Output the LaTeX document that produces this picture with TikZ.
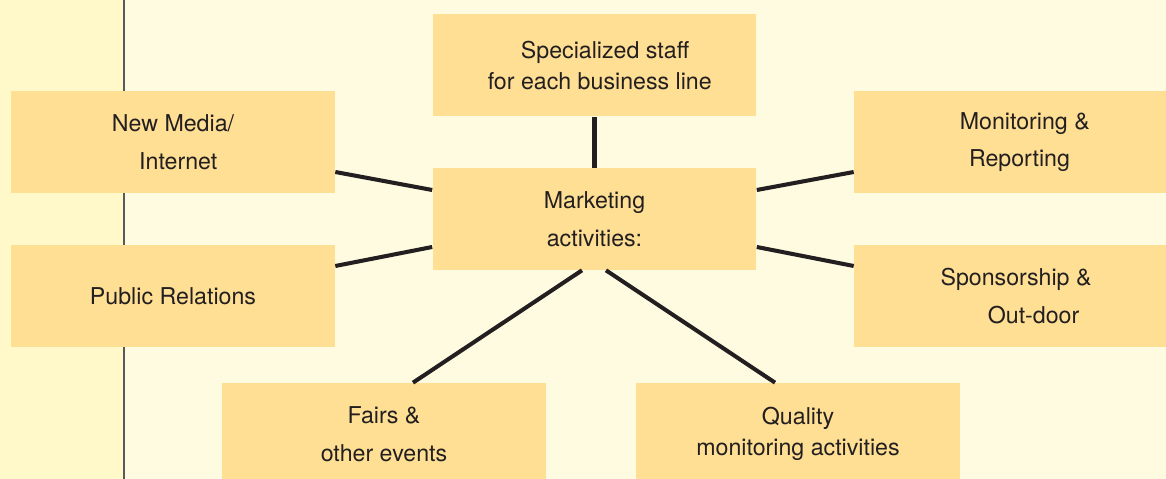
\documentclass[tikz,border=0pt]{standalone}
\usepackage{fontspec}
\setmainfont{TeX Gyre Heros}
\usetikzlibrary{calc}
\usetikzlibrary{positioning}
\definecolor{bandleft}{RGB}{255,248,200}
\definecolor{bandright}{RGB}{255,251,224}
\definecolor{boxfill}{RGB}{254,223,148}
\definecolor{spoke}{RGB}{35,31,32}
\begin{document}
\begin{tikzpicture}[x=0.02cm,y=0.02cm,
  every node/.style={fill=boxfill,minimum width=6.48cm,minimum height=2.04cm,inner sep=0pt,align=center,text=spoke,font=\fontsize{13.2}{21.5}\selectfont},
  tight/.style={font=\fontsize{13.2}{17.8}\selectfont},
  spokeline/.style={draw=spoke,line width=2.3pt}]
  \useasboundingbox (0,0) rectangle (1166,479);
  \clip (0,0) rectangle (1166,479);
  \fill[bandright] (0,0) rectangle (1166,479);
  \fill[bandleft] (0,0) rectangle (124,479);
  \draw[line width=1.1pt,black!65] (124,0) -- (124,479);

  \node (mkt) at (594.5,260){Marketing\\activities:};
  \node[tight,text depth=-3pt] (staff) at (594.5,413.5){\hspace*{12pt}Specialized staff\\\hspace*{6pt}for each business line};
  \node (media) at (173,337){New Media/\\\hspace*{6pt}Internet};
  \node (pr) at (173,183){Public Relations};
  \node (monitor) at (1016,337){\hspace*{10pt}Monitoring \&\\\hspace*{4pt}Reporting};
  \node (sponsor) at (1016,183){Sponsorship \&\\\hspace*{20pt}Out-door};
  \node (fairs) at (384,45){Fairs \&\\other events};
  \node[tight] (quality) at (798,45){Quality\\monitoring activities};

  \draw[spokeline](mkt.north)--(staff.south);
  \draw[spokeline]($(mkt.west)+(0,29)$)--($(media.east)+(0,-30)$);
  \draw[spokeline]($(mkt.west)+(0,-28)$)--($(pr.east)+(0,30)$);
  \draw[spokeline]($(mkt.east)+(0,29)$)--($(monitor.west)+(0,-30)$);
  \draw[spokeline]($(mkt.east)+(0,-28)$)--($(sponsor.west)+(0,30)$);
  \draw[spokeline]($(mkt.south)+(-12.5,0)$)--($(fairs.north)+(29,0)$);
  \draw[spokeline]($(mkt.south)+(11.5,0)$)--($(quality.north)+(-23,0)$);
\end{tikzpicture}
\end{document}
